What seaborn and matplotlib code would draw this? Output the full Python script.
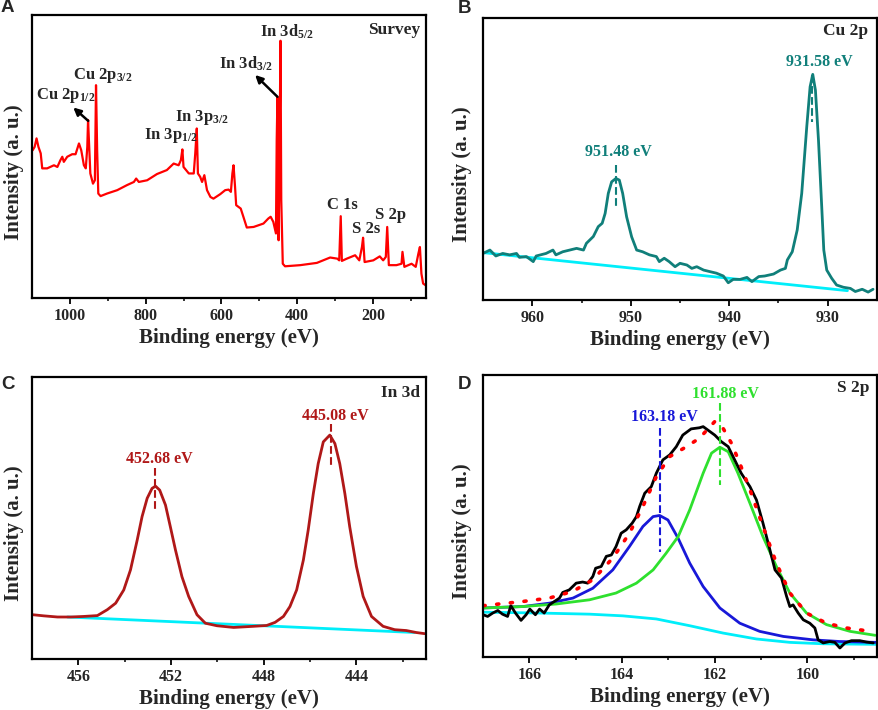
import numpy as np
import matplotlib
matplotlib.use("Agg")
import matplotlib.pyplot as plt
import seaborn as sns

# ---------------- data (y in % of panel height) -------------
# A: survey
survey_ev = [1098.3, 1093, 1088, 1083, 1077, 1073, 1060, 1042, 1033, 1025, 1020, 1016, 1007,
             994, 985, 976, 970, 963, 958, 954, 952, 949, 946, 939, 934, 931, 928, 925, 919,
             902, 875, 849, 831, 825, 818, 796, 770, 744, 726, 713, 707, 703, 700, 686, 673,
             669, 665, 662, 656, 651, 645, 638, 629, 621, 603, 590, 581, 575, 571, 568, 564,
             561, 555, 549, 542, 533, 515, 489, 476, 470, 463, 456, 454, 452, 449, 447, 444,
             442, 438, 432, 392, 348, 313, 294, 289, 285, 282, 269, 247, 236, 229, 226, 222,
             199, 182, 173, 166, 162.3, 158, 138, 124.5, 122, 117, 98, 87, 80, 76, 72, 67.5, 61]
survey_int = [52.2, 53.4, 56.4, 53.4, 51.1, 45.8, 45.8, 46.9, 46.3, 48.7, 49.9, 48.1, 49.9,
              50.8, 50.8, 54.6, 52.2, 46.9, 45.8, 53.4, 62.9, 53.4, 44.0, 40.4, 41.6, 75.2, 52.2,
              36.9, 36.0, 36.9, 38.1, 39.9, 41.0, 42.2, 41.0, 41.6, 43.8, 45.2, 47.5, 46.9, 48.7,
              52.5, 46.3, 44.0, 44.0, 51.1, 59.9, 44.0, 42.8, 41.0, 43.4, 38.1, 35.7, 35.1, 36.7,
              38.1, 38.3, 37.5, 44.0, 46.9, 39.3, 32.8, 32.2, 31.6, 28.7, 24.9, 25.1, 26.3, 28.1,
              28.7, 26.9, 22.8, 55.8, 71.1, 20.4, 46.3, 90.9, 34.6, 12.1, 11.2, 11.6, 12.4, 14.3,
              13.9, 13.3, 28.9, 13.1, 13.9, 15.1, 13.3, 18.0, 21.3, 12.7, 13.3, 14.7, 13.3, 14.5,
              25.1, 11.6, 11.6, 12.1, 16.3, 11.0, 12.1, 11.0, 15.7, 18.0, 8.6, 5.1, 4.5]

# B: Cu 2p
cu_ev = [965.0, 964.3, 963.7, 963.0, 962.3, 961.6, 961.3, 960.6, 959.9, 959.6,
         958.6, 957.9, 957.6, 956.9, 956.2, 955.5, 954.8, 954.5, 953.8, 953.3,
         952.9, 952.6, 952.28, 951.94, 951.50, 951.16, 950.82, 950.42, 949.91, 949.4,
         948.8, 948.1, 947.4, 947.1, 946.6, 946.1, 945.5, 945.0, 944.3, 943.8,
         943.3, 942.6, 941.9, 941.3, 940.6, 940.1, 939.6, 938.9, 938.2, 937.7,
         937.0, 936.4, 935.5, 934.8, 934.3, 934.1, 933.6, 933.1, 932.64, 932.13,
         931.79, 931.52, 931.25, 930.94, 930.61, 930.4, 930.1, 929.6, 929.1, 928.4,
         927.7, 927.2, 926.5, 925.9, 925.4]
cu_int = [16.5, 17.7, 15.6, 16.5, 16.0, 16.5, 15.1, 15.4, 13.6, 15.6,
          16.5, 17.7, 16.0, 17.1, 17.7, 18.3, 17.7, 20.1, 22.5, 26.0,
          27.2, 30.7, 37.8, 41.9, 43.1, 42.5, 37.8, 29.5, 22.4, 17.7,
          17.1, 16.0, 15.4, 13.6, 14.8, 13.6, 11.8, 13.0, 12.4, 11.2,
          11.8, 10.6, 10.0, 9.5, 8.5, 6.1, 7.3, 7.3, 8.0, 6.5,
          8.3, 8.5, 9.2, 10.6, 11.2, 14.2, 17.1, 24.8, 37.8, 61.4,
          75.6, 80.0, 74.4, 56.7, 33.1, 17.7, 10.6, 7.7, 5.3, 4.5,
          4.1, 3.0, 3.8, 2.8, 3.8]
cu_bg_ev = [965.0, 928.0]
cu_bg_int = [16.8, 3.3]
cu_peaks = [951.48, 931.58]
cu_peak_dash = [(47.8, 33.1), (79.7, 63.2)]
cu_peak_text = [(951.3, 52.5), (930.9, 84.4)]

# C: In 3d
in_ev = [457.96, 457.48, 456.90, 456.33, 455.76, 455.18, 454.75, 454.39, 454.04, 453.75,
         453.46, 453.25, 453.03, 452.82, 452.67, 452.49, 452.24, 452.03, 451.81, 451.53,
         451.24, 450.88, 450.52, 450.02, 449.30, 448.44, 447.87, 447.51, 447.15, 446.87,
         446.58, 446.29, 446.08, 445.86, 445.65, 445.43, 445.15, 444.93, 444.72, 444.50,
         444.29, 444.00, 443.71, 443.35, 442.85, 442.35, 441.85, 441.42, 441.06]
in_int = [15.7, 15.3, 14.9, 14.9, 15.1, 15.4, 17.5, 19.8, 24.5, 31.6,
          42.2, 50.5, 57.0, 60.5, 61.3, 59.9, 54.6, 46.9, 38.7, 29.2,
          22.2, 15.7, 12.7, 11.8, 11.2, 11.6, 11.9, 13.0, 15.1, 18.6,
          24.5, 35.1, 45.8, 58.7, 69.3, 77.0, 79.4, 76.4, 69.3, 58.7,
          46.9, 32.8, 22.2, 15.1, 11.6, 10.4, 10.1, 9.4, 9.0]
in_bg_ev = [456.47, 441.49]
in_bg_int = [14.9, 9.4]
in_peaks = [452.68, 445.08]
in_peak_dash = [(67.6, 52.2), (83.5, 68.2)]
in_peak_text = [(452.5, 71.1), (444.9, 86.1)]

# D: S 2p
s_ev = [167.0, 166.90, 166.79, 166.68, 166.58, 166.47, 166.40, 166.30, 166.18, 166.07,
        165.99, 165.87, 165.78, 165.68, 165.57, 165.46, 165.35, 165.28, 165.14, 164.99,
        164.85, 164.74, 164.63, 164.57, 164.45, 164.34, 164.23, 164.13, 164.02, 163.91,
        163.78, 163.69, 163.62, 163.51, 163.37, 163.26, 163.12, 162.97, 162.83, 162.69,
        162.51, 162.33, 162.25, 162.15, 162.00, 161.86, 161.71, 161.57, 161.43, 161.24,
        161.10, 160.96, 160.81, 160.70, 160.56, 160.45, 160.38, 160.31, 160.20, 160.09,
        159.95, 159.84, 159.77, 159.66, 159.52, 159.41, 159.30, 159.19, 159.05, 158.87,
        158.72, 158.58]
s_int = [15.0, 14.4, 15.6, 16.5, 15.2, 14.4, 18.2, 15.6, 13.0, 15.0,
         17.0, 15.0, 17.0, 15.6, 18.5, 19.7, 20.9, 22.9, 23.8, 26.2,
         26.6, 26.2, 28.6, 31.5, 32.1, 35.7, 36.2, 39.2, 43.9, 45.1,
         47.5, 49.8, 53.4, 58.1, 60.4, 65.2, 69.9, 71.7, 74.6, 78.7,
         80.9, 81.3, 81.7, 80.5, 78.7, 76.4, 74.6, 69.9, 65.2, 60.4,
         55.7, 47.5, 38.0, 30.9, 28.0, 21.5, 17.9, 18.5, 15.6, 13.2,
         12.0, 10.3, 6.1, 5.0, 5.5, 5.2, 3.2, 5.0, 5.8, 5.8,
         5.3, 5.0]
fit_ev = [167.0, 166.14, 165.57, 165.06, 164.63, 164.20, 163.84, 163.55, 163.26, 162.97,
          162.61, 162.33, 162.00, 161.82, 161.64, 161.46, 161.24, 160.96, 160.67, 160.38,
          160.02, 159.59, 159.16, 158.72]
fit_int = [18.2, 19.7, 20.9, 23.3, 27.4, 35.1, 43.9, 53.4, 64.0, 71.1,
           74.6, 77.6, 83.5, 81.1, 75.8, 68.7, 59.3, 46.3, 33.3, 22.7,
           15.6, 12.0, 10.3, 9.3]
blue_ev = [167.0, 166.14, 165.57, 165.06, 164.63, 164.20, 163.84, 163.55, 163.33, 163.19,
           163.01, 162.79, 162.54, 162.25, 161.89, 161.46, 161.03, 160.52, 159.88, 159.30,
           158.51]
blue_int = [17.4, 17.9, 19.1, 20.9, 24.4, 30.9, 39.2, 46.3, 49.8, 50.2,
            48.6, 42.1, 33.3, 25.0, 17.4, 12.0, 9.1, 7.3, 6.1, 5.5,
            5.2]
green_ev = [167.0, 166.14, 165.42, 164.70, 164.13, 163.69, 163.33, 163.05, 162.79, 162.54,
            162.25, 162.07, 161.89, 161.71, 161.50, 161.24, 160.96, 160.67, 160.38, 160.02,
            159.59, 159.08, 158.54]
green_int = [17.4, 17.9, 18.8, 20.3, 22.7, 26.2, 30.9, 36.8, 42.7, 52.2,
             65.2, 72.3, 74.4, 72.8, 65.2, 54.5, 42.7, 32.1, 22.7, 15.6,
             11.5, 9.1, 7.7]
s_bg_ev = [167.0, 165.78, 164.70, 163.98, 163.26, 162.54, 161.82, 161.10, 160.38, 159.66, 158.51]
s_bg_int = [15.9, 15.6, 15.2, 14.6, 13.5, 11.1, 8.5, 6.4, 5.2, 4.7, 4.5]
s_peaks = [163.18, 161.88]
s_peak_dash = [(81.1, 37.4), (90.0, 61.0)]
s_peak_text = [(163.08, 85.2), (161.77, 93.3)]

# ---------------- style ----------------
sns.set_theme(style="ticks")
plt.rcParams["font.family"] = ["Liberation Serif", "DejaVu Serif"]
plt.rcParams["font.weight"] = "bold"
plt.rcParams["axes.labelweight"] = "bold"
plt.rcParams["mathtext.fontset"] = "custom"
plt.rcParams["mathtext.rm"] = "Liberation Serif:bold"
plt.rcParams["mathtext.bf"] = "Liberation Serif:bold"
plt.rcParams["mathtext.it"] = "Liberation Serif:bold:italic"
plt.rcParams["mathtext.default"] = "bf"

RED = "#ff0000"
TEAL = "#107f7a"
CYAN = "#00eefa"
DARKRED = "#b01818"
BLUE = "#1818d8"
GREEN = "#2ee02e"

fig = plt.figure(figsize=(8.79, 7.10), dpi=100)
axA = fig.add_axes([0.0364, 0.5803, 0.4482, 0.3986])
axB = fig.add_axes([0.5495, 0.5775, 0.4482, 0.3972])
axC = fig.add_axes([0.0364, 0.0718, 0.4482, 0.3972])
axD = fig.add_axes([0.5495, 0.0746, 0.4482, 0.3972])


def style_axis(ax, xlim, major, minor, ylab_x):
    ax.set_xlim(*xlim)
    ax.set_ylim(0, 100)
    ax.set_xticks(major)
    ax.set_xticks(minor, minor=True)
    ax.set_yticks([])
    ax.tick_params(axis="x", which="major", direction="out", length=4, width=1.3,
                   labelsize=11.5, pad=3, color="black")
    ax.tick_params(axis="x", which="minor", direction="out", length=2.5, width=1.1, color="black")
    for sp in ax.spines.values():
        sp.set_linewidth(1.6)
        sp.set_color("black")
    ax.set_xlabel("Binding energy (eV)", fontsize=15, labelpad=3)
    ax.set_ylabel("Intensity (a. u.)", fontsize=15)
    ax.yaxis.set_label_coords(ylab_x, 0.446)
    for lab in ax.get_xticklabels():
        lab.set_fontweight("bold")


def line(ax, x, y, color, lw=2.0, **kw):
    sns.lineplot(x=x, y=y, ax=ax, color=color, lw=lw, estimator=None, sort=False, **kw)


# ---------------- A ----------------
line(axA, survey_ev, survey_int, RED, lw=1.6)
style_axis(axA, (1100, 60), [1000, 800, 600, 400, 200], [900, 700, 500, 300, 100], -0.021)
labels_A = [("Cu 2p$_{1/2}$", 1012, 71.5), ("Cu 2p$_{3/2}$", 914, 78.7),
            ("In 3p$_{1/2}$", 733, 57.4), ("In 3p$_{3/2}$", 651, 63.9),
            ("In 3d$_{3/2}$", 535, 82.8), ("In 3d$_{5/2}$", 426, 94.0),
            ("C 1s", 281, 32.8), ("S 2s", 218, 24.5), ("S 2p", 154, 29.2)]
for txt, x, y in labels_A:
    axA.text(x, y, txt, ha="center", va="center", fontsize=12, fontweight="bold")
axA.text(0.986, 0.946, "Survey", transform=axA.transAxes, ha="right", va="center",
         fontsize=12.5, fontweight="bold")
arrow = dict(arrowstyle="-|>", lw=1.8, color="black", mutation_scale=11, shrinkA=0, shrinkB=0)
axA.annotate("", xy=(991, 67.3), xytext=(951.7, 62.6), arrowprops=arrow)
axA.annotate("", xy=(511, 78.8), xytext=(452.1, 71.1), arrowprops=arrow)

# ---------------- B ----------------
line(axB, cu_bg_ev, cu_bg_int, CYAN, lw=2.0)
line(axB, cu_ev, cu_int, TEAL, lw=2.0)
style_axis(axB, (965, 925), [960, 950, 940, 930], [955, 945, 935], -0.028)
for pk, (y0, y1), (tx, ty) in zip(cu_peaks, cu_peak_dash, cu_peak_text):
    axB.plot([pk, pk], [y0, y1], ls="--", lw=1.5, color=TEAL)
    axB.text(tx, ty, f"{pk:.2f} eV", ha="center", va="center", color=TEAL,
             fontsize=11.5, fontweight="bold")
axB.text(0.977, 0.954, "Cu 2p", transform=axB.transAxes, ha="right", va="center",
         fontsize=12.5, fontweight="bold")

# ---------------- C ----------------
line(axC, in_bg_ev, in_bg_int, CYAN, lw=2.0)
line(axC, in_ev, in_int, DARKRED, lw=2.0)
style_axis(axC, (458, 441), [456, 452, 448, 444], [454, 450, 446, 442], -0.021)
for pk, (y0, y1), (tx, ty) in zip(in_peaks, in_peak_dash, in_peak_text):
    axC.plot([pk, pk], [y0, y1], ls="--", lw=1.5, color=DARKRED)
    axC.text(tx, ty, f"{pk:.2f} eV", ha="center", va="center", color=DARKRED,
             fontsize=11.5, fontweight="bold")
axC.text(0.985, 0.943, "In 3d", transform=axC.transAxes, ha="right", va="center",
         fontsize=12.5, fontweight="bold")

# ---------------- D ----------------
line(axD, s_bg_ev, s_bg_int, CYAN, lw=2.0)
line(axD, blue_ev, blue_int, BLUE, lw=2.0)
line(axD, green_ev, green_int, GREEN, lw=2.0)
line(axD, s_ev, s_int, "black", lw=2.0)
axD.plot(fit_ev, fit_int, color=RED, lw=2.6, ls=(0, (0.6, 3.2)), dash_capstyle="round")
style_axis(axD, (167, 158.5), [166, 164, 162, 160], [165, 163, 161, 159], -0.028)
for pk, (y0, y1), (tx, ty), col in zip(s_peaks, s_peak_dash, s_peak_text, [BLUE, GREEN]):
    axD.plot([pk, pk], [y0, y1], ls="--", lw=1.5, color=col)
    axD.text(tx, ty, f"{pk:.2f} eV", ha="center", va="center", color=col,
             fontsize=11.5, fontweight="bold")
axD.text(0.981, 0.953, "S 2p", transform=axD.transAxes, ha="right", va="center",
         fontsize=12.5, fontweight="bold")

# panel letters
for letter, x, y in [("A", 0.008, 0.989), ("B", 0.528, 0.988), ("C", 0.009, 0.458), ("D", 0.528, 0.458)]:
    fig.text(x, y, letter, ha="center", va="center", fontsize=13.5, fontweight="bold",
             family=["Liberation Sans", "DejaVu Sans"])

fig.savefig("out.png", dpi=100)
